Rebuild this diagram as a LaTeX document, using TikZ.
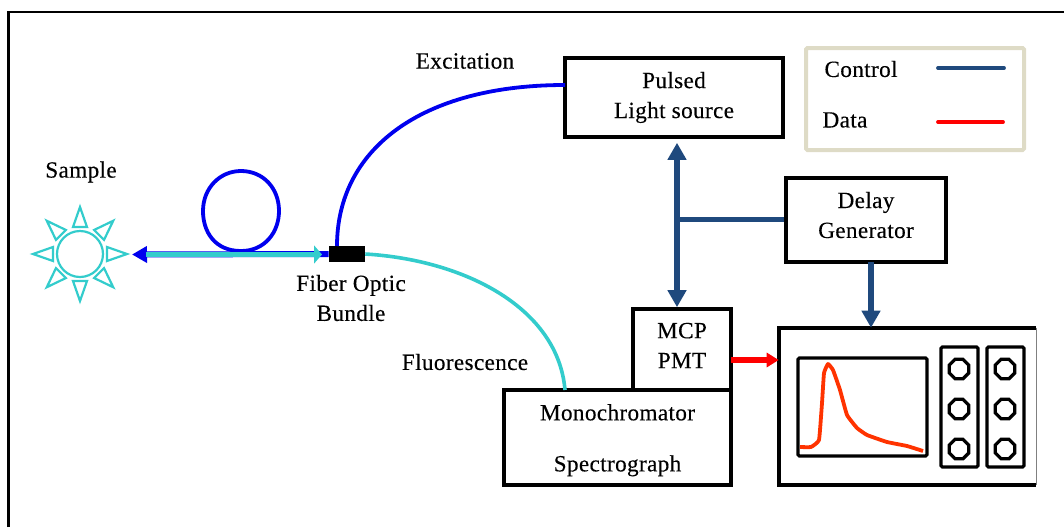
\documentclass[tikz,border=0pt]{standalone}
\usepackage{fontspec}
\setmainfont{Liberation Serif}[FakeBold=0.25, LetterSpace=1.5]
\usetikzlibrary{arrows.meta}
\usetikzlibrary{shapes.geometric}
\definecolor{navy}{HTML}{1F497D}
\definecolor{fiberblue}{HTML}{0000EE}
\definecolor{fibercyan}{HTML}{33CCCC}
\definecolor{legendline}{HTML}{DEDBC6}
\definecolor{trace}{HTML}{FF3300}
\newcommand{\px}{0.025cm}

\begin{document}
\begin{tikzpicture}[
    x=\px, y=-\px,
    % text
    label/.style={font=\fontsize{16.5}{21.3}\selectfont, align=center, inner sep=0pt},
    % boxes
    box/.style 2 args={label, draw, line width=3.6*\px, minimum width=#1*\px, minimum height=#2*\px},
    panel/.style 2 args={draw, line width=3.2*\px, rounded corners=1pt, minimum width=#1*\px, minimum height=#2*\px},
    knob/.style={draw, regular polygon, regular polygon sides=8, line width=3.2*\px, minimum size=21*\px, inner sep=0pt},
    % connectors
    navytip/.tip={Triangle[length=17*\px, width=18*\px]},
    control/.style={navy, line width=6.5*\px},
    data/.style={red, line width=5.5*\px},
    fiber/.style={fiberblue, line width=3.8*\px},
    fluor/.style={fibercyan, line width=3.6*\px},
    halo/.style={fibercyan, line width=2.2*\px, line join=miter}]

    \useasboundingbox (0, 0) rectangle (1064, 527);

    % outer frame
    \draw [line width=2.6*\px] (8.5, 527) -- (8.5, 12) -- (1064, 12);

    % boxes
    \node [box={218}{79}] (pulsed) at (674, 97.5) {Pulsed\\Light source};
    \node [box={160}{84}] (delay) at (866, 220) {Delay\\Generator\rule[-7.2pt]{0pt}{0pt}};
    \node [box={98}{81}] (mcp) at (682, 349.5) {MCP\\PMT\rule[-5.7pt]{0pt}{0pt}};
    \node [box={227}{95}] (mono) at (617.5, 437.5) {\rule{0pt}{15.4pt}Monochromator\\[15pt]Spectrograph};
    \node [minimum width=257*\px, minimum height=157*\px] (scope) at (907.5, 406.5) {};
    \draw [line width=3.6*\px] (scope.north east) -- (scope.north west)
    -- (scope.south west) -- (scope.south east);
    \draw [gray, line width=1.2*\px] (scope.north east) -- (scope.south east);

    % oscilloscope front
    \node [panel={129}{98}] (screen) at (862.5, 407) {};
    \node [panel={37}{120}] (leftcol) at (959.5, 407) {};
    \node [panel={37}{120}] (rightcol) at (1005.5, 407) {};
    \foreach \col/\xpos in {a/959, b/1005} {
      \foreach \row/\ypos in {1/369, 2/409, 3/449} {
        \node [knob] (knob\col\row) at (\xpos, \ypos) {};
      }
    }
    \draw [trace, line width=3.8*\px, line join=round] plot [smooth, tension=0.2] coordinates {
      (800, 447) (811, 447) (819, 440) (822, 403) (824, 373) (828, 364)
      (833, 370) (840, 390) (847, 415) (857, 428) (867, 435) (887, 442)
      (907, 446) (923, 451)};

    % legend
    \node [draw=legendline, line width=4*\px, rounded corners=1pt,
      minimum width=218*\px, minimum height=102*\px] (legend) at (915, 99) {};
    \node [label] (controltext) at (861, 69) {Control};
    \node [label] (datatext) at (845, 120) {Data};
    \coordinate (controla) at (938, 68);
    \coordinate (controlb) at (1004, 68);
    \coordinate (dataa) at (938, 122);
    \coordinate (datab) at (1003, 122);
    \draw [navy, line width=3.8*\px, line cap=round] (controla) -- (controlb);
    \draw [red, line width=3.8*\px, line cap=round] (dataa) -- (datab);

    % control lines
    \coordinate (tee) at (677, 219);
    \coordinate (delayout) at (871, 262);
    \coordinate (pmtout) at (731, 360);
    \draw [control, shorten <=4*\px, navytip-navytip]
    (tee |- pulsed.south) -- (tee |- mcp.north);
    \draw [navy, line width=5*\px] (delay.west |- tee) -- (tee);
    \draw [control, -navytip] (delayout) -- (delayout |- scope.north);
    \draw [data, -{Triangle[length=12*\px, width=14*\px]}] (pmtout) -- (pmtout -| scope.west);

    % sample
    \node [draw=fibercyan, circle, line width=2.2*\px, minimum size=46*\px, inner sep=0pt] (sample) at (80, 254) {};
    \foreach \ang in {0, 45, ..., 315} {
      \draw [halo, rotate around={\ang:(80, 254)}]
      (107, 247) -- (127, 254) -- (107, 261) -- cycle;
    }
    \node [label] (sampletext) at (81, 172) {Sample};

    % fiber
    \node [fill=black, minimum width=36*\px, minimum height=16*\px, inner sep=0pt] (bundle) at (347, 254) {};
    \coordinate (probe) at (132, 254.5);
    \coordinate (probeback) at (146, 254.5);
    \coordinate (bundlein) at (322, 254.5);
    \coordinate (bundletop) at (337, 246);
    \coordinate (sourcein) at (565, 85);
    \coordinate (monoin) at (565, 390);
    \draw [fiber] (241, 251) .. controls (215, 251) and (203, 232) .. (203, 211)
    .. controls (203, 188) and (220, 171) .. (241, 171)
    .. controls (263, 171) and (279, 188) .. (279, 211)
    .. controls (279, 232) and (265, 251) .. (241, 251);
    \draw [fiber, line width=6*\px, -{Triangle[length=15*\px, width=16*\px]}] (bundle.west) -- (probe);
    \draw [fluor, line width=5.5*\px, -{Triangle[length=8*\px, width=18*\px]}] (probeback) -- (bundlein);
    \draw [fiber] (bundletop) .. controls (337, 150) and (420, 85) .. (sourcein);
    \draw [fluor] (bundle.east) .. controls (465, 260) and (558, 308) .. (monoin);

    % labels
    \node [label] (excitation) at (465, 61) {Excitation};
    \node [label] (fluorescence) at (465, 362) {Fluorescence};
    \node [label] (bundletext) at (351, 298) {Fiber Optic\\Bundle};
\end{tikzpicture}
\end{document}
